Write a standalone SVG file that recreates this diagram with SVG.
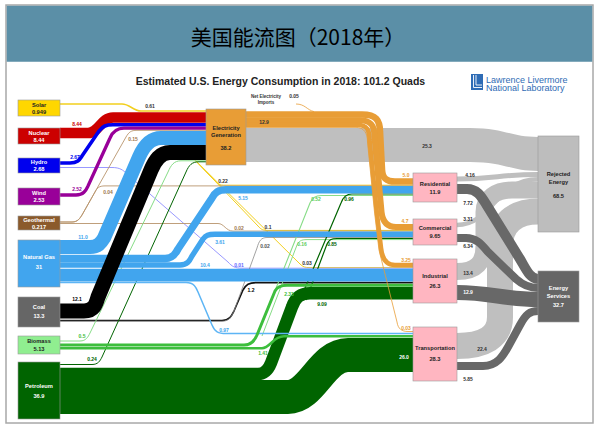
<svg xmlns="http://www.w3.org/2000/svg" width="600" height="431" viewBox="0 0 600 431">
<style>
.t{font-family:"Liberation Sans",Arial,sans-serif;font-weight:bold;text-anchor:middle}
.v{font-size:5px}
.n{font-size:5.7px}
.w{fill:#fff}
.k{fill:#222}
.f{fill:none}
.box{stroke:#9a9a9a;stroke-width:0.6}
.rj{stroke:#BFBFBF}
.sv{stroke:#686868}
.so{stroke:#F2CF1E}
.ge{stroke:#B8946C}
.bl{stroke:#86DC86}
.pe{stroke:#006400}
.ng{stroke:#41A5EE}
.bi{stroke:#3DBE3D}
.el{stroke:#E89D36}
</style>
<rect x="6" y="5" width="587" height="418" fill="#fff" stroke="#A8A8A8" stroke-width="1.5"/>
<rect x="6.75" y="5.75" width="585.5" height="56" fill="#5B8FA7"/>
<text x="298" y="44.5" font-family="'Noto Sans CJK SC','Noto Sans CJK JP',sans-serif" font-size="21" text-anchor="middle" fill="#000">美国能流图（2018年）</text>
<text class="t" x="280.5" y="85" font-size="10.5" fill="#222">Estimated U.S. Energy Consumption in 2018: 101.2 Quads</text>
<g id="logo">
<rect x="471" y="74" width="12" height="16" fill="#2F6CB5"/>
<path d="M473.5,75 V87.5 H482" stroke="#fff" stroke-width="0.9" fill="none"/>
<path d="M476,75 V85 H482" stroke="#fff" stroke-width="0.9" fill="none"/>
<text x="486" y="82.5" font-family="'Liberation Sans',Arial,sans-serif" font-size="9" fill="#2F6CB5">Lawrence Livermore</text>
<text x="486" y="91" font-family="'Liberation Sans',Arial,sans-serif" font-size="9" fill="#2F6CB5">National Laboratory</text>
</g>
<g id="connectors" class="f">
<path d="M246,128 H470 C505,128 510,137 538,137 V171 C510,171 505,162 470,162 H246 Z" fill="#BFBFBF"/>
<path class="rj" d="M457,179 C495,179 500,174.5 538,174.5" stroke-width="5"/>
<path class="rj" d="M457,225 C492,225 496,179.25 538,179.25" stroke-width="4.5"/>
<path class="rj" d="M457,271.5 C477,271.5 484,262 484,246 V212 C484,198 496,190 512,190 H538" stroke-width="17"/>
<path class="rj" d="M457,346 C484,346 500,337 500,317 V246 C500,224 514,211.5 538,211.5" stroke-width="26"/>
<path class="sv" d="M457,189 H467 C477,189 481,196 486,204 L520,259 C526,269 530,279 538,279" stroke-width="10"/>
<path class="sv" d="M457,238 H466 C477,238 482,245 488,252 L516,279 C524,286 530,288 538,288" stroke-width="8"/>
<path class="sv" d="M457,292.5 C490,292.5 505,299.5 538,299.5" stroke-width="15"/>
<path class="sv" d="M457,366 H483 C497,366 503,356 508,347 L520,325 C526,314 530,311 538,311" stroke-width="8"/>
<path class="so" d="M60,104 H122 C130,104 133,111 141,111 H206" stroke-width="1.5"/>
<path class="so" d="M192,157 L216,182 C218,184.5 220,185.2 225,185.2 H413" stroke-width="1"/>
<path class="so" d="M192,157 L258,226 C261,229.5 263,230.4 268,230.4 H413" stroke-width="1"/>
<path class="so" d="M192,157 L300,264 C303,267 305,267.6 310,267.6 H413" stroke-width="1"/>
<path d="M60,167.5 H112 C120,167.5 123,170 127,174 L228,262 C232,266.5 235,268.2 242,268.2 H413" stroke="#9999FF" stroke-width="1"/>
<path class="ge" d="M60,222 H72 C78,222 80,218 82,215 L126,137 C129,132 131,130.3 137,130.3 H206" stroke-width="0.9"/>
<path class="ge" d="M60,222 H72 C78,222 80,218 82,215 L95,192 C97,188 99,185.9 105,185.9 H413" stroke-width="0.9"/>
<path class="ge" d="M60,223.5 H218 C224,223.5 226,231.1 233,231.1 H413" stroke-width="0.9"/>
<path d="M60,320.5 H222 C230,320.5 232,315 234,311 L243,290 C246,284.5 249,282.6 256,282.6 H413" stroke="#111" stroke-width="1.6"/>
<path d="M60,321.3 H222 C230,321.3 232,315 234,311 L257,248 C259,241 261,237.5 267,237.5 H413" stroke="#8a8a8a" stroke-width="0.8"/>
<path class="bl" d="M60,341 H80 C86,341 88,337 90,333 L168,172 C171,165 174,160.8 181,160.8 H206" stroke-width="1"/>
<path class="bl" d="M257,336 L310,203 C312,198 315,195.5 321,195.5 H413" stroke-width="1.1"/>
<path class="bl" d="M262,336 L297,245 C299,241 301,239.6 307,239.6 H413" stroke-width="1"/>
<path class="pe" d="M60,364.5 H92 C98,364.5 100,361 102,357 L186,172 C189,165 192,161.8 199,161.8 H206" stroke-width="1"/>
<path class="pe" d="M300,300 L341,203 C343,197 346,194 352,194 H413" stroke-width="1.2"/>
<path class="pe" d="M306,300 L327,244 C329,240 331,238.5 337,238.5 H413" stroke-width="1.2"/>
<path class="ng" d="M60,247 H90 C98,247 101,243 104,238 L139,157 C143,147.8 150,138 161,138 H206" stroke-width="14"/>
<path class="ng" d="M60,258.5 H165 C173,258.5 176,253 178,249 L212,198 C215,192.5 218,189.75 226,189.75 H413" stroke-width="7.4"/>
<path class="ng" d="M60,265 H180 C188,265 190,260 192,256 L203,239 C206,235 208,234.3 215,234.3 H413" stroke-width="5.4"/>
<path class="ng" d="M60,275.2 H413" stroke-width="12.8"/>
<path class="pe" d="M60,374 H258 C266,374 269,368 271,363 L292,307 C295,298 300,293.2 310,293.2 H413" stroke-width="12.4"/>
<path class="pe" d="M60,397 H288 C312,397 322,355 348,355 H413" stroke-width="34"/>
<path d="M60,282.6 H186 C194,282.6 196,287 198,292 L212,325 C215,332 218,333.6 226,333.6 H413" stroke="#5DB5F5" stroke-width="1.5"/>
<path class="bi" d="M60,345 H244 C252,345 255,340 257,335 L275,291 C277,287 280,285.3 287,285.3 H413" stroke-width="3"/>
<path class="bi" d="M60,348.25 H262 C270,348.25 273,336.3 284,336.3 H413" stroke-width="2.5"/>
<path d="M60,311 H84 C94,311 96,304 98,297 L151,170 C155,160.5 160,152.5 170,152.5 H206" stroke="#000" stroke-width="15"/>
<path d="M60,133 H88 C99,133 101,117.5 113,117.5 H206" stroke="#CC0000" stroke-width="10.5"/>
<path d="M60,163 H70 C78,163 80,159 82,156 L99,131 C103,126 106,124.75 113,124.75 H206" stroke="#0000EE" stroke-width="3.6"/>
<path d="M60,195 H76 C84,195 86,190 88,186 L110,138 C113,131 117,128.15 124,128.15 H206" stroke="#990099" stroke-width="3.3"/>
<path class="el" d="M246,114.5 H362 C376,114.5 380,120 380,132 L382,170 C382.5,178 386,181.5 395,181.5 H413" stroke-width="6.6"/>
<path class="el" d="M246,120.25 H360 C371,120.25 374.5,126 374.5,136 L381.5,212 C382.5,221 387,227 396,227 H413" stroke-width="6.1"/>
<path class="el" d="M246,125 H358 C367,125 369.5,130 369.5,140 L376.75,212 L381,248 C382,258 386,265 395,265 H413" stroke-width="4.6"/>
<path class="el" d="M246,127.4 H356 C364,127.4 367.5,133 367.5,142 L374.5,212 L379,250 L397,322 C398,329 402,331.5 408,331.5 H413" stroke-width="0.8"/>
<path class="el" d="M296,104 C305,104 307,110 314,111.6" stroke-width="0.8"/>
</g>
<g id="flow-labels" class="t v">
<text x="150" y="108" fill="#333">0.61</text>
<text x="77" y="126" fill="#CC0000">8.44</text>
<text x="75" y="159" fill="#0000EE">2.67</text>
<text x="77" y="191" fill="#990099">2.52</text>
<text x="133" y="141" fill="#A07850">0.15</text>
<text x="108" y="194" fill="#A07850">0.04</text>
<text x="83" y="239" fill="#41A5EE">11.0</text>
<text x="77" y="301" fill="#000">12.1</text>
<text x="82" y="338" fill="#3DBE3D">0.5</text>
<text x="92" y="361" fill="#006400">0.24</text>
<text x="266" y="97.5" fill="#333" font-size="4.5">Net Electricity</text>
<text x="266" y="103.5" fill="#333" font-size="4.5">Imports</text>
<text x="294" y="98" fill="#333">0.05</text>
<text x="264" y="124" fill="#333">12.9</text>
<text x="427" y="148" fill="#333">25.3</text>
<text x="223" y="182.5" fill="#333">0.22</text>
<text x="243" y="200" fill="#41A5EE">5.15</text>
<text x="268" y="229" fill="#333">0.1</text>
<text x="239" y="229.5" fill="#A07850">0.02</text>
<text x="220" y="244" fill="#41A5EE">3.61</text>
<text x="265" y="248" fill="#555">0.02</text>
<text x="316" y="201" fill="#5ccc5c">0.52</text>
<text x="349" y="201" fill="#006400">0.96</text>
<text x="302" y="246" fill="#5ccc5c">0.16</text>
<text x="332" y="246" fill="#006400">0.85</text>
<text x="205" y="266.5" fill="#41A5EE">10.4</text>
<text x="239" y="267" fill="#6666FF">0.01</text>
<text x="307" y="264.5" fill="#333">0.03</text>
<text x="251" y="292" fill="#000">1.2</text>
<text x="289" y="296" fill="#3DBE3D">2.33</text>
<text x="322" y="306" fill="#006400">9.09</text>
<text x="224" y="331.5" fill="#41A5EE">0.97</text>
<text x="263" y="355" fill="#3DBE3D">1.41</text>
<text x="404" y="359" class="w">26.0</text>
<text x="406" y="177" fill="#E89D36">5.0</text>
<text x="405" y="222.5" fill="#E89D36">4.7</text>
<text x="406" y="261.8" fill="#E89D36">3.25</text>
<text x="406" y="329.5" fill="#E89D36">0.03</text>
<text x="470" y="176.5" fill="#333">4.16</text>
<text x="468" y="205" fill="#333">7.72</text>
<text x="468" y="221" fill="#333">3.31</text>
<text x="468" y="248" fill="#333">6.34</text>
<text x="468" y="275" fill="#333">13.4</text>
<text x="468" y="294" class="w">12.9</text>
<text x="482" y="351" fill="#333">22.4</text>
<text x="468" y="381" fill="#333">5.85</text>
</g>
<g id="solar"><rect class="box" x="18" y="100" width="42" height="16" fill="#FFD700"/><text class="t n k" x="39" y="106.5">Solar</text><text class="t n k" x="39" y="113.5">0.949</text></g>
<g id="nuclear"><rect class="box" x="18" y="128" width="42" height="16" fill="#CC0000"/><text class="t n w" x="39" y="134.5">Nuclear</text><text class="t n w" x="39" y="141.5">8.44</text></g>
<g id="hydro"><rect class="box" x="18" y="158" width="42" height="15" fill="#0000EE"/><text class="t n w" x="39" y="164">Hydro</text><text class="t n w" x="39" y="171">2.68</text></g>
<g id="wind"><rect class="box" x="18" y="188" width="42" height="17" fill="#990099"/><text class="t n w" x="39" y="194.5">Wind</text><text class="t n w" x="39" y="202">2.53</text></g>
<g id="geothermal"><rect class="box" x="18" y="216" width="42" height="14" fill="#8B5A2B"/><text class="t n w" x="39" y="221.8">Geothermal</text><text class="t n w" x="39" y="228.5">0.217</text></g>
<g id="natural-gas"><rect class="box" x="18" y="240" width="42" height="47" fill="#41A5EE"/><text class="t n w" x="39" y="259">Natural Gas</text><text class="t n w" x="39" y="269">31</text></g>
<g id="coal"><rect class="box" x="18" y="297" width="42" height="30" fill="#666666"/><text class="t n w" x="39" y="309">Coal</text><text class="t n w" x="39" y="318">13.3</text></g>
<g id="biomass"><rect class="box" x="18" y="336" width="42" height="18" fill="#90EE90"/><text class="t n k" x="39" y="343">Biomass</text><text class="t n k" x="39" y="351">5.13</text></g>
<g id="petroleum"><rect class="box" x="18" y="362" width="42" height="57" fill="#006400"/><text class="t n w" x="39" y="388">Petroleum</text><text class="t n w" x="39" y="398">36.9</text></g>
<g id="electricity-generation"><rect class="box" x="206" y="109" width="40" height="56" fill="#E89D36"/><text class="t n k" x="226" y="130">Electricity</text><text class="t n k" x="226" y="136.5">Generation</text><text class="t n k" x="226" y="149.5">38.2</text></g>
<g id="residential"><rect class="box" x="413" y="173" width="44" height="29" fill="#FFB6C1"/><text class="t n k" x="435" y="186">Residential</text><text class="t n k" x="435" y="194">11.9</text></g>
<g id="commercial"><rect class="box" x="413" y="219" width="44" height="26" fill="#FFB6C1"/><text class="t n k" x="435" y="230">Commercial</text><text class="t n k" x="435" y="238">9.65</text></g>
<g id="industrial"><rect class="box" x="413" y="259" width="44" height="44" fill="#FFB6C1"/><text class="t n k" x="435" y="278">Industrial</text><text class="t n k" x="435" y="288">26.3</text></g>
<g id="transportation"><rect class="box" x="413" y="327" width="44" height="54" fill="#FFB6C1"/><text class="t n k" x="435" y="350">Transportation</text><text class="t n k" x="435" y="361">28.3</text></g>
<g id="rejected-energy"><rect class="box" x="538" y="136" width="41" height="96" fill="#BDBDBD"/><text class="t n k" x="558.5" y="176">Rejected</text><text class="t n k" x="558.5" y="184">Energy</text><text class="t n k" x="558.5" y="198">68.5</text></g>
<g id="energy-services"><rect class="box" x="538" y="271" width="41" height="51" fill="#666666"/><text class="t n w" x="558.5" y="290">Energy</text><text class="t n w" x="558.5" y="297.5">Services</text><text class="t n w" x="558.5" y="307">32.7</text></g>
</svg>
